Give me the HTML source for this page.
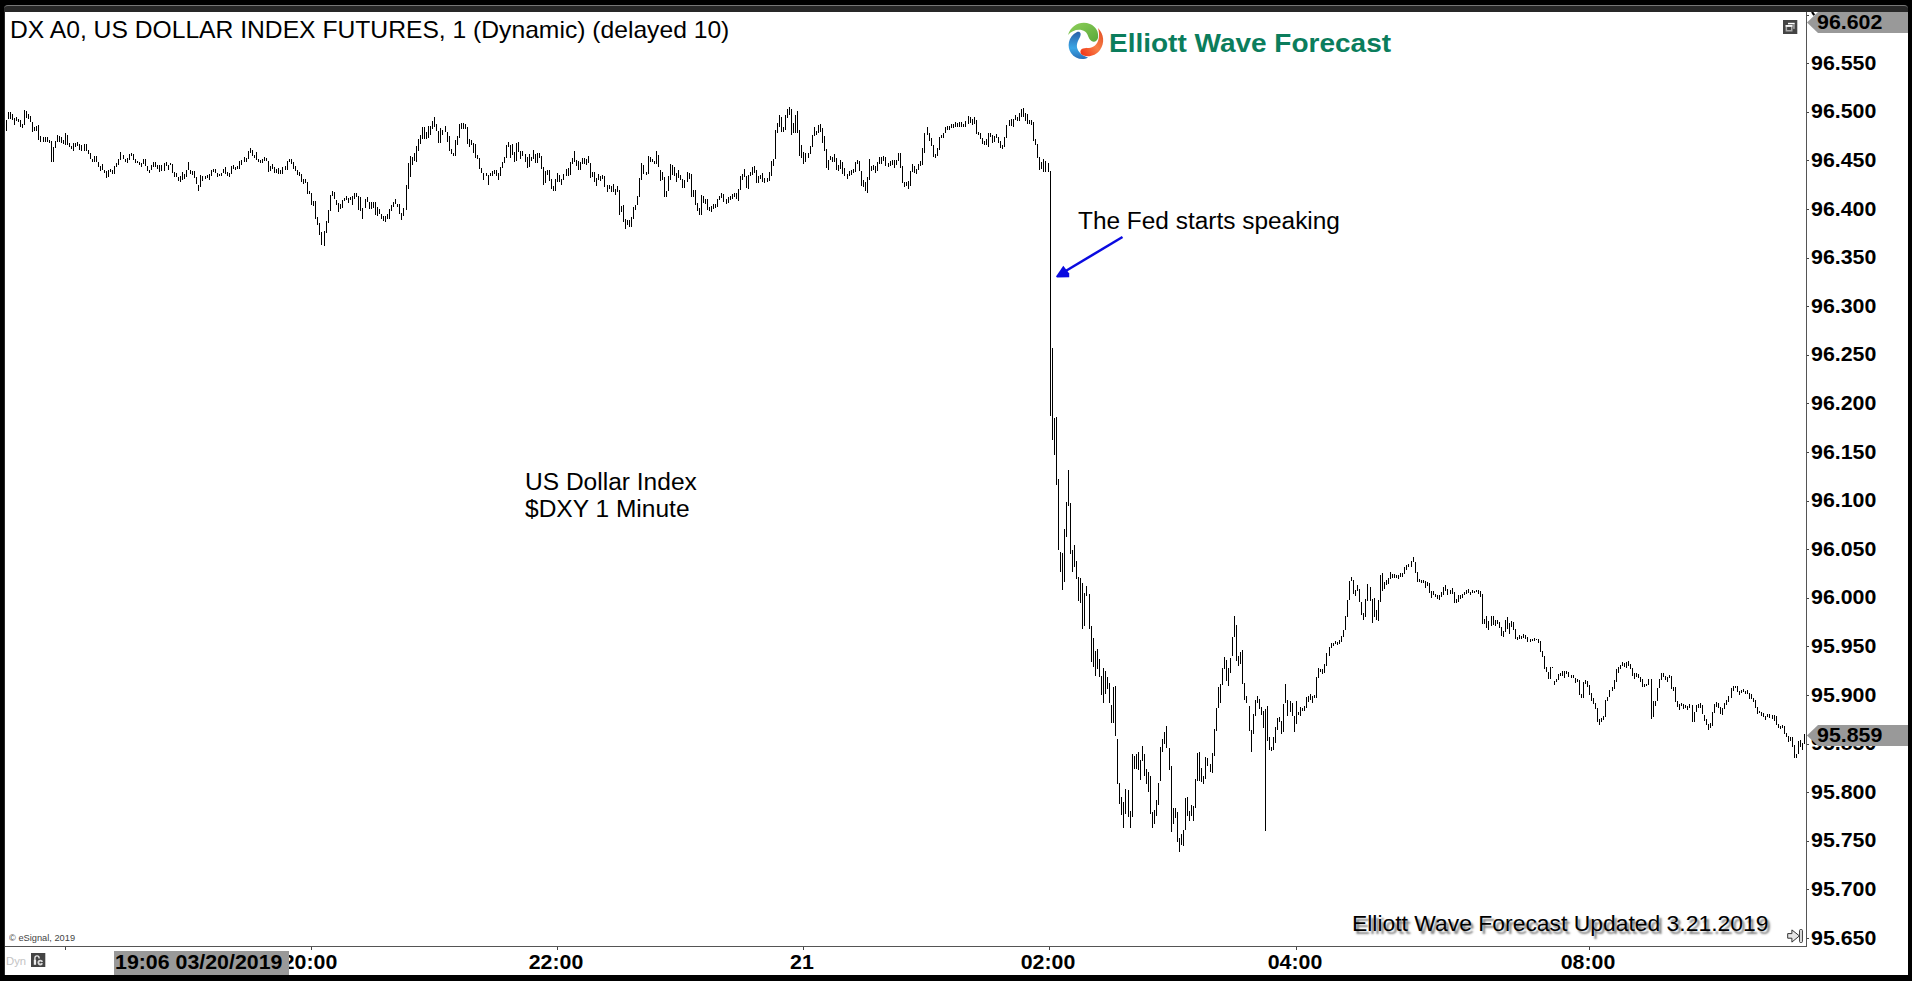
<!DOCTYPE html>
<html>
<head>
<meta charset="utf-8">
<title>DX A0 - US Dollar Index Futures</title>
<style>
html,body{margin:0;padding:0;background:#000;}
body{width:1912px;height:981px;position:relative;overflow:hidden;font-family:"Liberation Sans",sans-serif;color:#000;}
#frame{position:absolute;left:4px;top:5px;width:1904px;height:970px;background:#282828;border-radius:4px 4px 0 0;border-top:1px solid #777;box-sizing:border-box;}
#win{position:absolute;left:5px;top:12px;width:1903px;height:963px;background:#fff;}
.abs{position:absolute;white-space:nowrap;}
#title{left:9.5px;top:17px;font-size:23.6px;line-height:26px;transform-origin:0 50%;transform:scaleX(1.045);}
#chart{position:absolute;left:0;top:0;}
#yaxis{position:absolute;left:1806px;top:12px;width:1px;height:935px;background:#555;}
#xaxis{position:absolute;left:5px;top:946px;width:1802px;height:1px;background:#555;}
.yl{position:absolute;left:1811px;width:90px;font-weight:bold;font-size:21px;line-height:23px;height:23px;transform-origin:0 50%;transform:scaleX(1.017);}
.yt{position:absolute;left:1807px;width:2px;height:1px;background:#444;}
.xl{position:absolute;top:950.1px;width:100px;text-align:center;font-weight:bold;font-size:21px;line-height:23px;transform:scaleX(1.017);}
.xt{position:absolute;top:947px;width:1px;height:3px;background:#444;}
.tag{position:absolute;left:1807px;width:101px;height:21px;background:#999;clip-path:polygon(0 50%,11px 0,100% 0,100% 100%,11px 100%);}
.tagt{position:absolute;left:1817px;font-weight:bold;font-size:21px;line-height:23px;transform-origin:0 50%;transform:scaleX(1.017);}
#tlabel{position:absolute;left:114px;top:951px;width:175px;height:24px;background:#999;}
#tlabelt{position:absolute;left:115.1px;top:950.1px;font-weight:bold;font-size:21px;line-height:23px;transform-origin:0 50%;transform:scaleX(1.017);white-space:nowrap;}
</style>
</head>
<body>
<div id="frame"></div>
<div id="win"></div>

<div id="title" class="abs">DX A0, US DOLLAR INDEX FUTURES, 1 (Dynamic) (delayed 10)</div>

<!-- logo -->
<svg id="logo" class="abs" style="left:1064px;top:20px" width="44" height="44" viewBox="0 0 44 44">
<defs>
<linearGradient id="gg" x1="0" y1="0" x2="1" y2="1"><stop offset="0" stop-color="#8fd05a"/><stop offset="1" stop-color="#5aa83a"/></linearGradient>
<linearGradient id="gb" x1="0" y1="0" x2="0" y2="1"><stop offset="0" stop-color="#2a5fa8"/><stop offset="0.6" stop-color="#3aa6e6"/><stop offset="1" stop-color="#2a6fb8"/></linearGradient>
<linearGradient id="gr" x1="1" y1="0" x2="0" y2="1"><stop offset="0" stop-color="#e04a20"/><stop offset="0.5" stop-color="#f88048"/><stop offset="1" stop-color="#f02a10"/></linearGradient>
</defs>
<path d="M4 15 C7 5 17 0.5 26 4 C32 6.5 35 12 34 18 C33 21.5 30 22.5 27.5 21 C24 19 24.5 14 21 11.5 C16 8 8 10 4 15 Z" fill="url(#gg)"/>
<path d="M13 12 C16.5 11 17.5 14 16 17 C13.5 21.5 12 25 13.5 29 C15 33 19 36 24 37.5 C19 40.5 11 39 7 33 C3 27 3.5 17 13 12 Z" fill="url(#gb)"/>
<path d="M34 8 C40 14 41 23 36 30 C32 35.5 25 37.5 19.5 35.5 C15.5 34 15.5 29.5 19 28.5 C23 27.5 27 29 31 25.5 C35 22 36 15 34 8 Z" fill="url(#gr)"/>
</svg>
<div id="brand" class="abs" style="left:1108.8px;top:27.7px;font-size:25.8px;line-height:30px;font-weight:bold;color:#0b7d5c;transform-origin:0 50%;transform:scaleX(1.085);">Elliott Wave Forecast</div>

<!-- chart bars -->
<svg id="chart" width="1912" height="981" viewBox="0 0 1912 981" shape-rendering="crispEdges">
<path d="M6.5 120V131M8.5 112V119M10.5 112V119M12.5 114V120M14.5 118V125M16.5 117V121M18.5 119V122M20.5 120V127M22.5 124V128M24.5 110V125M26.5 111V118M28.5 114V119M30.5 116V122M32.5 122V132M34.5 127V131M36.5 126V131M38.5 125V140M40.5 136V142M43.5 137V142M45.5 137V142M47.5 137V142M49.5 140V143M51.5 141V162M53.5 147V162M55.5 141V148M57.5 135V142M59.5 136V142M61.5 137V143M63.5 140V144M65.5 133V145M67.5 135V145M69.5 143V147M71.5 146V149M73.5 143V151M75.5 143V147M77.5 142V146M79.5 144V150M81.5 145V151M84.5 144V151M86.5 144V151M88.5 150V154M90.5 153V159M92.5 159V162M94.5 156V162M96.5 156V162M98.5 162V167M100.5 166V171M102.5 164V170M104.5 170V173M106.5 171V178M108.5 170V177M110.5 169V172M112.5 170V174M114.5 166V174M116.5 163V167M118.5 159V165M120.5 152V160M123.5 155V159M125.5 159V162M127.5 158V163M129.5 154V160M131.5 153V156M133.5 154V160M135.5 159V163M137.5 161V163M139.5 162V165M141.5 163V167M143.5 159V164M145.5 159V166M147.5 166V171M149.5 170V173M151.5 165V170M153.5 162V167M155.5 162V167M157.5 165V169M159.5 165V172M161.5 165V171M164.5 163V171M166.5 162V166M168.5 165V170M170.5 163V165M172.5 164V173M174.5 172V177M176.5 173V177M178.5 177V181M180.5 176V182M182.5 172V180M184.5 174V179M186.5 170V177M188.5 162V170M190.5 170V174M192.5 171V175M194.5 171V178M196.5 177V184M198.5 185V191M200.5 175V187M202.5 176V181M205.5 176V179M207.5 175V178M209.5 174V180M211.5 170V176M213.5 169V172M215.5 169V173M217.5 173V177M219.5 174V176M221.5 173V176M223.5 169V173M225.5 167V174M227.5 172V176M229.5 173V177M231.5 166V174M233.5 165V169M235.5 167V170M237.5 166V169M239.5 161V169M241.5 160V165M244.5 157V162M246.5 158V162M248.5 151V159M250.5 148V153M252.5 150V156M254.5 155V158M256.5 152V160M258.5 159V162M260.5 160V163M262.5 159V163M264.5 157V161M266.5 158V161M268.5 161V172M270.5 166V171M272.5 164V169M274.5 167V173M276.5 169V173M278.5 168V174M280.5 170V174M282.5 167V174M285.5 166V170M287.5 161V170M289.5 159V162M291.5 159V164M293.5 162V169M295.5 166V171M297.5 170V175M299.5 172V176M301.5 174V182M303.5 179V184M305.5 179V183M307.5 182V194M309.5 191V194M311.5 193V205M313.5 201V206M315.5 201V219M317.5 217V225M319.5 223V235M321.5 232V245M324.5 231V246M326.5 221V233M328.5 210V223M330.5 195V211M332.5 191V196M334.5 192V199M336.5 200V205M338.5 203V212M340.5 204V209M342.5 200V208M344.5 198V201M346.5 196V200M348.5 198V203M350.5 197V200M352.5 196V205M354.5 193V199M356.5 193V197M358.5 196V210M360.5 197V211M362.5 208V219M365.5 199V208M367.5 197V202M369.5 202V209M371.5 202V209M373.5 202V208M375.5 202V215M377.5 207V216M379.5 209V214M381.5 214V219M383.5 216V221M385.5 216V222M387.5 214V219M389.5 209V219M391.5 205V211M393.5 202V207M395.5 199V204M397.5 204V207M399.5 204V214M401.5 213V220M403.5 208V216M406.5 185V210M408.5 163V189M410.5 156V177M412.5 157V165M414.5 153V161M416.5 146V162M418.5 139V151M420.5 135V144M422.5 127V139M424.5 127V139M426.5 132V139M428.5 126V138M430.5 126V135M432.5 121V129M434.5 117V127M436.5 124V131M438.5 131V143M440.5 128V143M442.5 130V135M445.5 126V132M447.5 132V142M449.5 136V151M451.5 149V154M453.5 153V156M455.5 140V156M457.5 136V145M459.5 124V138M461.5 123V129M463.5 123V129M465.5 124V129M467.5 127V144M469.5 139V147M471.5 140V145M473.5 143V153M475.5 144V158M477.5 155V159M479.5 158V169M481.5 168V173M483.5 173V180M486.5 173V176M488.5 175V185M490.5 173V176M492.5 171V176M494.5 170V174M496.5 170V176M498.5 173V180M500.5 167V176M502.5 162V168M504.5 157V163M506.5 145V158M508.5 142V147M510.5 145V158M512.5 144V155M514.5 152V162M516.5 143V161M518.5 142V152M520.5 151V159M522.5 151V156M525.5 154V162M527.5 157V168M529.5 154V167M531.5 157V161M533.5 150V159M535.5 154V163M537.5 153V163M539.5 153V158M541.5 156V169M543.5 167V185M545.5 171V183M547.5 170V175M549.5 170V181M551.5 179V189M553.5 186V191M555.5 179V191M557.5 173V182M559.5 175V182M561.5 179V185M563.5 174V180M566.5 169V176M568.5 168V176M570.5 162V175M572.5 158V164M574.5 151V162M576.5 160V166M578.5 161V170M580.5 162V170M582.5 158V164M584.5 158V164M586.5 159V165M588.5 156V163M590.5 163V178M592.5 172V177M594.5 172V182M596.5 178V186M598.5 174V180M600.5 176V181M602.5 175V179M604.5 176V187M607.5 185V192M609.5 185V189M611.5 186V192M613.5 184V192M615.5 189V195M617.5 186V192M619.5 190V215M621.5 206V212M623.5 205V222M625.5 219V229M627.5 220V225M629.5 220V227M631.5 217V227M633.5 207V219M635.5 205V210M637.5 196V205M639.5 178V197M641.5 163V180M643.5 165V174M646.5 172V175M648.5 156V174M650.5 157V162M652.5 159V162M654.5 161V164M656.5 151V164M658.5 155V167M660.5 170V181M662.5 172V180M664.5 177V197M666.5 191V197M668.5 176V191M670.5 164V180M672.5 165V175M674.5 167V176M676.5 173V182M678.5 170V178M680.5 175V180M682.5 179V188M684.5 180V188M687.5 172V182M689.5 173V179M691.5 174V197M693.5 190V197M695.5 190V205M697.5 203V211M699.5 208V215M701.5 195V215M703.5 196V203M705.5 199V204M707.5 199V210M709.5 207V211M711.5 206V212M713.5 204V209M715.5 204V208M717.5 199V207M719.5 196V200M721.5 193V198M723.5 194V202M726.5 199V204M728.5 197V203M730.5 196V200M732.5 194V199M734.5 193V197M736.5 193V199M738.5 189V201M740.5 176V190M742.5 174V180M744.5 169V177M746.5 176V188M748.5 175V189M750.5 172V176M752.5 167V175M754.5 166V173M756.5 170V183M758.5 176V183M760.5 175V179M762.5 173V182M764.5 178V183M767.5 178V182M769.5 172V181M771.5 161V176M773.5 159V166M775.5 130V159M777.5 123V133M779.5 115V127M781.5 117V132M783.5 127V132M785.5 115V130M787.5 109V118M789.5 107V115M791.5 109V135M793.5 123V133M795.5 115V133M797.5 111V133M799.5 130V156M801.5 145V158M803.5 152V164M805.5 153V162M808.5 153V158M810.5 146V154M812.5 135V147M814.5 127V136M816.5 131V135M818.5 125V133M820.5 124V132M822.5 128V143M824.5 136V151M826.5 149V168M828.5 160V170M830.5 156V160M832.5 157V162M834.5 154V162M836.5 158V170M838.5 165V171M840.5 160V169M842.5 162V174M844.5 168V176M847.5 174V179M849.5 171V176M851.5 170V175M853.5 169V173M855.5 162V172M857.5 160V164M859.5 161V171M861.5 171V186M863.5 180V187M865.5 182V191M867.5 177V193M869.5 159V180M871.5 166V171M873.5 165V170M875.5 166V173M877.5 162V171M879.5 157V164M881.5 157V164M883.5 156V161M885.5 157V166M888.5 163V167M890.5 161V166M892.5 160V165M894.5 160V168M896.5 160V165M898.5 153V161M900.5 153V168M902.5 166V183M904.5 182V187M906.5 182V186M908.5 181V189M910.5 171V186M912.5 164V172M914.5 166V173M916.5 169V174M918.5 164V170M920.5 161V166M922.5 148V165M924.5 133V153M927.5 127V135M929.5 133V141M931.5 138V146M933.5 145V157M935.5 154V158M937.5 148V156M939.5 137V150M941.5 135V138M943.5 133V138M945.5 127V133M947.5 126V130M949.5 126V130M951.5 124V128M953.5 124V128M955.5 122V127M957.5 123V127M959.5 122V127M961.5 122V127M963.5 124V127M965.5 121V127M968.5 116V124M970.5 117V123M972.5 119V125M974.5 117V124M976.5 120V134M978.5 132V135M980.5 133V139M982.5 138V144M984.5 141V145M986.5 139V145M988.5 133V147M990.5 133V137M992.5 135V143M994.5 136V142M996.5 134V138M998.5 137V143M1000.5 141V148M1002.5 145V149M1004.5 137V147M1006.5 125V138M1009.5 120V126M1011.5 119V126M1013.5 119V127M1015.5 115V120M1017.5 117V121M1019.5 113V121M1021.5 109V117M1023.5 108V117M1025.5 113V121M1027.5 114V124M1029.5 120V124M1031.5 120V125M1033.5 122V141M1035.5 139V145M1037.5 144V158M1039.5 157V170M1041.5 162V169M1043.5 159V172M1045.5 161V172M1048.5 163V172M1050.5 171V416M1052.5 348V440M1054.5 418V455M1056.5 417V485M1058.5 479V550M1060.5 552V572M1062.5 553V590M1064.5 529V582M1066.5 502V537M1068.5 470V506M1070.5 503V554M1072.5 550V572M1074.5 545V567M1076.5 561V579M1078.5 577V601M1080.5 578V603M1082.5 583V629M1084.5 593V626M1086.5 586V596M1089.5 594V629M1091.5 626V662M1093.5 638V667M1095.5 651V676M1097.5 649V669M1099.5 659V677M1101.5 676V695M1103.5 668V703M1105.5 671V694M1107.5 677V689M1109.5 683V703M1111.5 705V723M1113.5 687V723M1115.5 686V736M1117.5 739V784M1119.5 783V804M1121.5 797V815M1123.5 802V828M1125.5 789V814M1128.5 790V817M1130.5 811V828M1132.5 754V817M1134.5 756V769M1136.5 754V769M1138.5 752V770M1140.5 760V780M1142.5 746V761M1144.5 754V776M1146.5 769V784M1148.5 772V792M1150.5 776V814M1152.5 812V828M1154.5 810V824M1156.5 800V816M1158.5 783V805M1160.5 747V781M1162.5 739V752M1164.5 732V744M1166.5 726V748M1169.5 748V770M1171.5 766V832M1173.5 808V824M1175.5 808V818M1177.5 812V842M1179.5 838V852M1181.5 834V845M1183.5 830V846M1185.5 798V830M1187.5 797V816M1189.5 811V821M1191.5 805V816M1193.5 806V821M1195.5 779V808M1197.5 753V781M1199.5 752V781M1201.5 768V782M1203.5 776V784M1205.5 757V779M1207.5 758V766M1210.5 764V772M1212.5 753V773M1214.5 729V756M1216.5 708V731M1218.5 687V708M1220.5 684V703M1222.5 668V685M1224.5 657V669M1226.5 660V681M1228.5 668V686M1230.5 658V673M1232.5 637V656M1234.5 616V637M1236.5 625V661M1238.5 656V666M1240.5 652V664M1242.5 650V684M1244.5 683V700M1246.5 696V703M1249.5 706V731M1251.5 730V752M1253.5 714V734M1255.5 700V716M1257.5 696V703M1259.5 699V709M1261.5 707V715M1263.5 711V728M1265.5 709V831M1267.5 706V741M1269.5 737V750M1271.5 747V751M1273.5 737V750M1275.5 727V743M1277.5 718V730M1279.5 717V722M1281.5 721V734M1283.5 704V732M1285.5 684V703M1287.5 700V716M1290.5 701V712M1292.5 703V716M1294.5 716V732M1296.5 701V724M1298.5 712V715M1300.5 707V716M1302.5 708V711M1304.5 706V711M1306.5 697V708M1308.5 696V702M1310.5 694V700M1312.5 696V703M1314.5 695V698M1316.5 677V698M1318.5 668V678M1320.5 669V672M1322.5 669V674M1324.5 664V673M1326.5 653V666M1329.5 647V656M1331.5 643V648M1333.5 643V646M1335.5 641V644M1337.5 642V645M1339.5 640V644M1341.5 636V642M1343.5 630V637M1345.5 616V630M1347.5 600V617M1349.5 581V600M1351.5 577V581M1353.5 580V594M1355.5 590V596M1357.5 585V591M1359.5 589V602M1361.5 602V615M1363.5 613V620M1365.5 599V617M1367.5 584V601M1370.5 587V601M1372.5 599V623M1374.5 598V617M1376.5 610V620M1378.5 600V621M1380.5 575V602M1382.5 573V591M1384.5 582V589M1386.5 580V585M1388.5 578V584M1390.5 572V579M1392.5 574V578M1394.5 574V578M1396.5 575V578M1398.5 575V579M1400.5 573V577M1402.5 573V577M1404.5 567V574M1406.5 565V570M1408.5 564V567M1411.5 561V567M1413.5 557V562M1415.5 562V573M1417.5 572V582M1419.5 579V582M1421.5 580V583M1423.5 580V583M1425.5 581V588M1427.5 582V586M1429.5 583V593M1431.5 591V598M1433.5 591V595M1435.5 594V597M1437.5 595V599M1439.5 595V600M1441.5 592V597M1443.5 587V595M1445.5 585V591M1447.5 589V595M1450.5 590V594M1452.5 588V594M1454.5 592V603M1456.5 599V603M1458.5 595V602M1460.5 595V599M1462.5 594V598M1464.5 592V595M1466.5 590V594M1468.5 589V593M1470.5 592V595M1472.5 590V593M1474.5 591V593M1476.5 590V592M1478.5 590V594M1480.5 591V597M1482.5 594V624M1484.5 619V624M1486.5 616V628M1488.5 621V630M1491.5 616V626M1493.5 616V625M1495.5 620V626M1497.5 620V624M1499.5 622V628M1501.5 627V636M1503.5 631V637M1505.5 620V632M1507.5 617V629M1509.5 623V634M1511.5 621V627M1513.5 622V630M1515.5 629V639M1517.5 637V640M1519.5 635V639M1521.5 636V639M1523.5 634V638M1525.5 635V639M1527.5 637V642M1530.5 639V642M1532.5 639V641M1534.5 638V641M1536.5 639V640M1538.5 639V643M1540.5 641V652M1542.5 651V657M1544.5 656V669M1546.5 667V672M1548.5 672V679M1550.5 667V679M1552.5 667V668M1554.5 681V685M1556.5 679V682M1558.5 674V680M1560.5 673V676M1562.5 671V676M1564.5 671V678M1566.5 671V674M1568.5 672V677M1571.5 675V678M1573.5 675V678M1575.5 678V683M1577.5 679V682M1579.5 680V695M1581.5 694V698M1583.5 682V698M1585.5 680V684M1587.5 681V687M1589.5 685V695M1591.5 693V701M1593.5 698V704M1595.5 703V709M1597.5 708V722M1599.5 719V725M1601.5 718V722M1603.5 716V720M1605.5 700V717M1607.5 697V701M1609.5 690V697M1612.5 687V691M1614.5 680V689M1616.5 669V682M1618.5 667V673M1620.5 665V669M1622.5 662V666M1624.5 663V667M1626.5 662V668M1628.5 661V666M1630.5 664V669M1632.5 668V676M1634.5 673V679M1636.5 673V677M1638.5 674V678M1640.5 677V682M1642.5 679V687M1644.5 684V687M1646.5 684V686M1648.5 679V685M1651.5 679V719M1653.5 701V717M1655.5 701V706M1657.5 688V701M1659.5 679V688M1661.5 673V680M1663.5 673V677M1665.5 676V680M1667.5 677V682M1669.5 675V678M1671.5 676V689M1673.5 687V691M1675.5 687V702M1677.5 701V707M1679.5 704V710M1681.5 703V706M1683.5 704V709M1685.5 705V708M1687.5 706V710M1689.5 704V708M1692.5 705V722M1694.5 712V722M1696.5 705V712M1698.5 704V708M1700.5 703V708M1702.5 705V714M1704.5 715V721M1706.5 719V725M1708.5 724V730M1710.5 723V728M1712.5 712V726M1714.5 704V713M1716.5 702V707M1718.5 703V708M1720.5 707V714M1722.5 708V715M1724.5 703V709M1726.5 700V705M1728.5 696V702M1731.5 688V698M1733.5 686V691M1735.5 686V688M1737.5 686V692M1739.5 691V695M1741.5 690V693M1743.5 689V692M1745.5 691V694M1747.5 690V694M1749.5 693V699M1751.5 694V699M1753.5 698V702M1755.5 700V708M1757.5 707V714M1759.5 711V713M1761.5 712V716M1763.5 713V717M1765.5 716V720M1767.5 714V717M1769.5 714V718M1772.5 715V719M1774.5 715V721M1776.5 716V725M1778.5 724V728M1780.5 726V729M1782.5 725V728M1784.5 726V734M1786.5 733V737M1788.5 736V742M1790.5 737V741M1792.5 737V747M1794.5 745V758M1796.5 754V758M1798.5 741V754M1800.5 740V747M1802.5 743V750M1804.5 734V744" stroke="#000" stroke-width="1" fill="none"/>
</svg>

<!-- annotation -->
<div class="abs" id="fed" style="left:1077.5px;top:207.5px;font-size:23.3px;line-height:27px;transform-origin:0 50%;transform:scaleX(1.048);">The Fed starts speaking</div>
<svg class="abs" style="left:1040px;top:225px" width="100" height="65" viewBox="1040 225 100 65">
<line x1="1122.5" y1="237" x2="1064" y2="272" stroke="#0a0ae0" stroke-width="2.5"/>
<polygon points="1056,276.5 1063.3,265.8 1069.2,273.5 1069.2,277.2 1057,277.6" fill="#0a0ae0"/>
</svg>

<div class="abs" id="usd" style="left:524.7px;top:469.3px;font-size:23.3px;line-height:27px;white-space:pre;transform-origin:0 50%;transform:scaleX(1.053);">US Dollar Index
$DXY 1 Minute</div>

<div class="abs" id="upd" style="left:1352.2px;top:910.5px;font-size:21.8px;line-height:26px;text-shadow:2.5px 2.5px 2px rgba(0,0,0,0.5);transform-origin:0 50%;transform:scaleX(1.05);">Elliott Wave Forecast Updated 3.21.2019</div>

<div class="abs" id="esig" style="left:9.2px;top:931.5px;font-size:9.5px;line-height:12px;color:#444;transform-origin:0 50%;transform:scaleX(0.975);">© eSignal, 2019</div>
<div class="abs" id="dyn" style="left:6px;top:953.5px;font-size:11.3px;line-height:14px;color:#c4c4c4;">Dyn</div>
<svg class="abs" style="left:30.8px;top:952.9px" width="15" height="15" viewBox="0 0 15 15">
<rect x="0" y="0" width="14.3" height="14" fill="#444"/>
<path d="M3.9 7 V5 A2.1 2.1 0 0 1 8.1 5 V5.6" stroke="#eee" stroke-width="1.3" fill="none"/>
<rect x="2.8" y="6.8" width="2.3" height="5" fill="#eee"/>
<circle cx="9.3" cy="9.6" r="2.8" fill="#ddd"/>
<path d="M9.3 9.6 L12.5 8.4 L12.5 10.8 Z" fill="#444"/>
<circle cx="9.3" cy="9.6" r="1" fill="#444"/>
</svg>

<!-- axes -->
<div id="yaxis"></div>
<div id="xaxis"></div>
<div class="yt" style="top:63px"></div>
<div class="yt" style="top:112px"></div>
<div class="yt" style="top:160px"></div>
<div class="yt" style="top:209px"></div>
<div class="yt" style="top:258px"></div>
<div class="yt" style="top:306px"></div>
<div class="yt" style="top:355px"></div>
<div class="yt" style="top:403px"></div>
<div class="yt" style="top:452px"></div>
<div class="yt" style="top:501px"></div>
<div class="yt" style="top:549px"></div>
<div class="yt" style="top:598px"></div>
<div class="yt" style="top:646px"></div>
<div class="yt" style="top:695px"></div>
<div class="yt" style="top:744px"></div>
<div class="yt" style="top:792px"></div>
<div class="yt" style="top:841px"></div>
<div class="yt" style="top:889px"></div>
<div class="yt" style="top:938px"></div>

<div class="xt" style="left:65px"></div>
<div class="xt" style="left:311px"></div>
<div class="xt" style="left:557px"></div>
<div class="xt" style="left:803px"></div>
<div class="xt" style="left:1049px"></div>
<div class="xt" style="left:1296px"></div>
<div class="xt" style="left:1589px"></div>

<div class="yl" style="top:50.7px">96.550</div>
<div class="yl" style="top:99.3px">96.500</div>
<div class="yl" style="top:147.9px">96.450</div>
<div class="yl" style="top:196.5px">96.400</div>
<div class="yl" style="top:245.1px">96.350</div>
<div class="yl" style="top:293.7px">96.300</div>
<div class="yl" style="top:342.3px">96.250</div>
<div class="yl" style="top:390.9px">96.200</div>
<div class="yl" style="top:439.5px">96.150</div>
<div class="yl" style="top:488.1px">96.100</div>
<div class="yl" style="top:536.7px">96.050</div>
<div class="yl" style="top:585.3px">96.000</div>
<div class="yl" style="top:633.9px">95.950</div>
<div class="yl" style="top:682.5px">95.900</div>
<div class="yl" style="top:731.1px">95.850</div>
<div class="yl" style="top:779.7px">95.800</div>
<div class="yl" style="top:828.3px">95.750</div>
<div class="yl" style="top:876.9px">95.700</div>
<div class="yl" style="top:925.5px">95.650</div>

<div class="xl" style="left:260.2px">20:00</div>
<div class="xl" style="left:506.2px">22:00</div>
<div class="xl" style="left:752.2px">21</div>
<div class="xl" style="left:998.2px">02:00</div>
<div class="xl" style="left:1245.2px">04:00</div>
<div class="xl" style="left:1538.2px">08:00</div>


<div class="yt" style="top:15px"></div>
<!-- top value tag -->
<div class="tag" style="top:12px"></div>
<div class="tagt" style="top:9.8px">96.602</div>
<svg class="abs" style="left:1810px;top:12px" width="8" height="6" viewBox="0 0 8 6"><path d="M2 0 L4.2 3.2" stroke="#000" stroke-width="2.2"/></svg>
<!-- last price tag -->
<div class="tag" style="top:725px"></div>
<div class="tagt" style="top:722.6px">95.859</div>

<!-- time cursor label -->
<div id="tlabel"></div>
<div id="tlabelt">19:06 03/20/2019</div>

<!-- small icons -->
<svg class="abs" style="left:1783px;top:20px" width="15" height="14" viewBox="0 0 15 14">
<rect width="14.3" height="14" fill="#444"/>
<rect x="5" y="2.8" width="6.7" height="1.5" fill="#fff"/>
<rect x="10.2" y="4.3" width="1.5" height="4.6" fill="#aaa"/>
<rect x="2.6" y="5.1" width="6.9" height="6.4" fill="#aaa"/>
<rect x="2.6" y="5.1" width="6.9" height="1.6" fill="#fff"/>
<rect x="4.1" y="7" width="3.9" height="3" fill="#444"/>
</svg>
<svg class="abs" style="left:1786px;top:927px" width="19" height="18" viewBox="1786 927 19 18">
<path d="M1787.7 933.6 H1791.9 V929.9 L1799.4 935.9 L1791.9 942.1 V938.2 H1787.7 Z" fill="#e6e6e6" stroke="#333" stroke-width="1" stroke-linejoin="round"/>
<rect x="1799.6" y="929.5" width="2.8" height="13" rx="1" fill="#eee" stroke="#333" stroke-width="1"/>
</svg>
</body>
</html>
